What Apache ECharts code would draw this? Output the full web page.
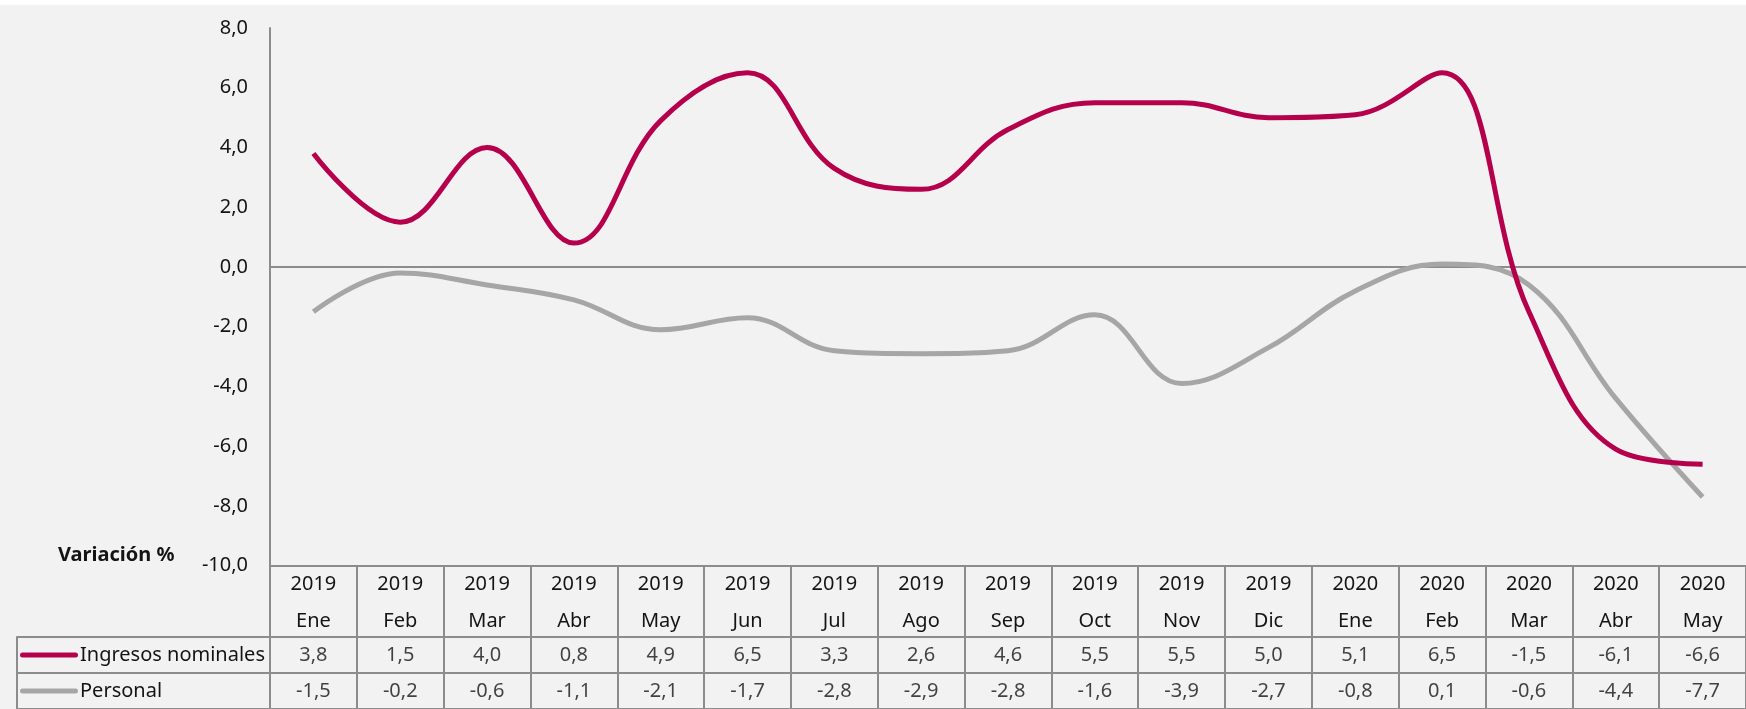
<!DOCTYPE html>
<html>
<head>
<meta charset="utf-8">
<script src="https://cdn.jsdelivr.net/npm/echarts@6/dist/echarts.min.js"></script>
<style>
html,body{margin:0;padding:0;background:#ffffff;}
#c{width:1746px;height:709px;}
</style>
</head>
<body>
<div id="c"></div>
<script>
var years = ['2019','2019','2019','2019','2019','2019','2019','2019','2019','2019','2019','2019','2020','2020','2020','2020','2020'];
var months = ['Ene','Feb','Mar','Abr','May','Jun','Jul','Ago','Sep','Oct','Nov','Dic','Ene','Feb','Mar','Abr','May'];
var ingresos = [3.8, 1.5, 4.0, 0.8, 4.9, 6.5, 3.3, 2.6, 4.6, 5.5, 5.5, 5.0, 5.1, 6.5, -1.5, -6.1, -6.6];
var personal = [-1.5, -0.2, -0.6, -1.1, -2.1, -1.7, -2.8, -2.9, -2.8, -1.6, -3.9, -2.7, -0.8, 0.1, -0.6, -4.4, -7.7];
var seriesNames = ['Ingresos nominales', 'Personal'];
var yTicks = {min: -10, max: 8, interval: 2};

var colIng = '#b5004c';
var colPer = '#a6a6a6';
var gridCol = '#8c8c8c';
var font = 'Noto Sans';
var txt = '#141414';

var cats = years.map(function (y, i) { return y + '\n' + months[i]; });
function fmt(v) { return v.toFixed(1).replace('.', ','); }

var tableIng = ingresos.map(function (v, i) { return [i, 0, v]; });
var tablePer = personal.map(function (v, i) { return [i, 1, v]; });

var chart = echarts.init(document.getElementById('c'), null, {renderer: 'canvas'});
var colW = 87.5;
var option = {
  backgroundColor: '#f2f2f2',
  animation: false,
  textStyle: {fontFamily: font},
  graphic: [{
    type: 'rect', left: 0, top: 0, z: 100,
    shape: {width: 1746, height: 5},
    style: {fill: '#ffffff'}
  }],
  title: {
    text: 'Variación %',
    left: 53, top: 540,
    textStyle: {fontFamily: font, fontSize: 20, fontWeight: 'bold', color: txt}
  },
  grid: [
    {left: 270, top: 28, width: colW * 17, height: 537.75},
    {left: 270, top: 637, width: colW * 17, height: 76},
    {left: 17, top: 637, width: 253, height: 76}
  ],
  xAxis: [
    {
      type: 'category', gridIndex: 0, data: cats, boundaryGap: true,
      axisLine: {show: true, onZero: false, lineStyle: {color: gridCol, width: 2}},
      axisTick: {show: true, length: 71, interval: 0, lineStyle: {color: gridCol, width: 2}},
      axisLabel: {show: true, interval: 0, margin: 0, fontSize: 20, lineHeight: 37, color: txt, fontFamily: font},
      splitLine: {show: false}
    },
    {
      type: 'category', gridIndex: 1, data: cats, boundaryGap: true,
      axisLine: {show: false}, axisTick: {show: false}, axisLabel: {show: false},
      splitLine: {show: true, interval: 0, lineStyle: {color: gridCol, width: 2}}
    },
    {
      type: 'value', gridIndex: 2, min: 0, max: 1, show: false
    }
  ],
  yAxis: [
    {
      type: 'value', gridIndex: 0, min: yTicks.min, max: yTicks.max, interval: yTicks.interval,
      axisLine: {show: true, lineStyle: {color: gridCol, width: 2}},
      axisTick: {show: false},
      splitLine: {show: false},
      axisLabel: {margin: 22, fontSize: 20, color: txt, fontFamily: font, formatter: function (v) { return fmt(v); }}
    },
    {
      type: 'category', gridIndex: 1, data: seriesNames, inverse: true,
      axisLine: {show: false}, axisTick: {show: false}, axisLabel: {show: false},
      splitLine: {show: true, interval: 0, lineStyle: {color: gridCol, width: 2}}
    },
    {
      type: 'category', gridIndex: 2, data: seriesNames, inverse: true,
      axisLine: {show: true, lineStyle: {color: gridCol, width: 2}},
      axisTick: {show: false},
      splitLine: {show: true, interval: 0, lineStyle: {color: gridCol, width: 2}},
      axisLabel: {
        inside: true, margin: 3, fontSize: 20, color: txt, fontFamily: font,
        formatter: function (v, i) { return (i === 0 ? '{ing|}' : '{per|}') + '{t|' + v + '}'; },
        rich: {
          ing: {width: 58, height: 5, backgroundColor: colIng, borderRadius: 3},
          per: {width: 58, height: 5, backgroundColor: colPer, borderRadius: 3},
          t: {fontSize: 20, color: txt, fontFamily: font, padding: [0, 0, 0, 2]}
        }
      }
    }
  ],
  series: [
    {
      name: seriesNames[1], type: 'line', xAxisIndex: 0, yAxisIndex: 0,
      data: personal, smooth: 0.4, showSymbol: false, symbol: 'none',
      lineStyle: {color: colPer, width: 5}, z: 3,
      markLine: {
        silent: true, symbol: 'none', label: {show: false},
        lineStyle: {color: gridCol, width: 2, type: 'solid'},
        data: [{yAxis: 0}], z: 1
      }
    },
    {
      name: seriesNames[0], type: 'line', xAxisIndex: 0, yAxisIndex: 0,
      data: ingresos, smooth: 0.4, showSymbol: false, symbol: 'none',
      lineStyle: {color: colIng, width: 5}, z: 4
    },
    {
      type: 'scatter', xAxisIndex: 1, yAxisIndex: 1, data: tableIng, symbolSize: 0,
      label: {show: true, position: 'inside', fontSize: 20, color: txt, fontFamily: font,
        formatter: function (p) { return fmt(p.value[2]); }},
      silent: true
    },
    {
      type: 'scatter', xAxisIndex: 1, yAxisIndex: 1, data: tablePer, symbolSize: 0,
      label: {show: true, position: 'inside', fontSize: 20, color: txt, fontFamily: font,
        formatter: function (p) { return fmt(p.value[2]); }},
      silent: true
    }
  ]
};
chart.setOption(option);
</script>
</body>
</html>
